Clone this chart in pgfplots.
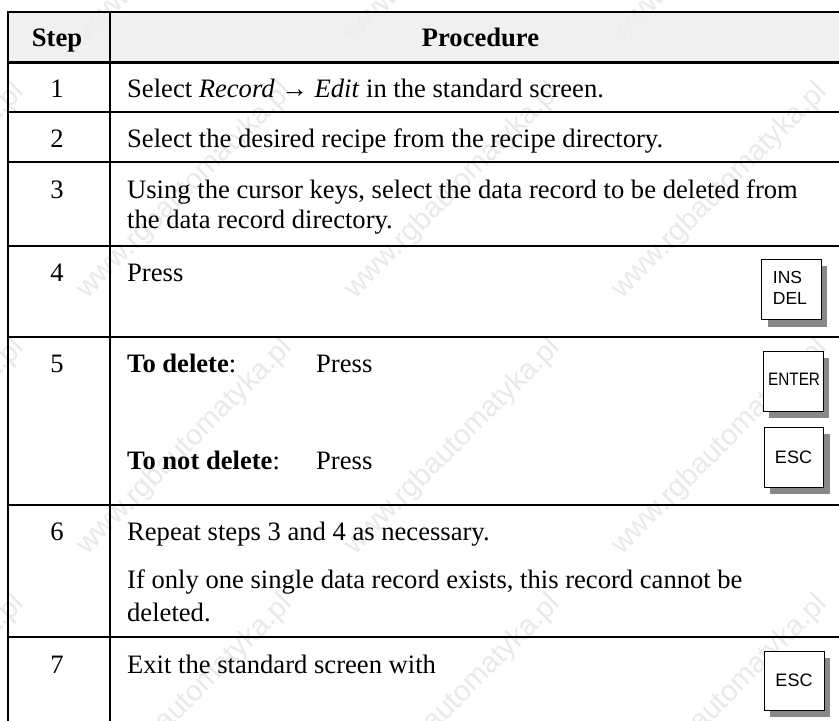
\documentclass[border=0pt]{standalone}
\usepackage{pgfplots}
\pgfplotsset{compat=1.18}
\usepackage{fontspec}
\setmainfont{Liberation Serif}
\newfontfamily\arial{Liberation Sans}
\definecolor{hdr}{HTML}{EEEEEE}
\definecolor{wm}{HTML}{E9E9E9}
\definecolor{shadowc}{HTML}{888888}
\newcommand{\T}[3]{\node[anchor=base west,inner sep=0pt,yshift=-1pt,font=\fontsize{26.6}{30}\selectfont] at (axis cs:#1,#2) {#3};}
\newcommand{\C}[3]{\node[anchor=base,inner sep=0pt,yshift=-1pt,font=\fontsize{26.6}{30}\selectfont] at (axis cs:#1,#2) {#3};}
\newcommand{\W}[2]{\node[rotate=45,inner sep=0pt,text=wm,font=\arial\fontsize{29}{32}\selectfont] at (axis cs:#1,#2) {www.rgbautomatyka.pl};}
\begin{document}
\begin{tikzpicture}
\begin{axis}[
  scale only axis, width=839pt, height=721pt,
  xmin=0, xmax=839, ymin=0, ymax=721, y dir=reverse,
  hide axis, clip=false]
% watermark
\W{-83}{-65}\W{185}{-65}\W{453}{-65}\W{720}{-65}
\W{-83}{191}\W{185}{191}\W{453}{191}\W{720}{191}
\W{-83}{447}\W{185}{447}\W{453}{447}\W{720}{447}
\W{-83}{703}\W{185}{703}\W{453}{703}\W{720}{703}
% header shade
\addplot[draw=none,fill=hdr,fill opacity=0.9] coordinates {(8,12) (839,12) (839,62) (8,62)} --cycle;
% table rules
\addplot[black,line width=1.9pt] coordinates {(7,12) (839,12)};
\addplot[black,line width=3.4pt] coordinates {(7,62.7) (839,62.7)};
\addplot[black,line width=1.8pt] coordinates {(7,111.7) (839,111.7)};
\addplot[black,line width=1.8pt] coordinates {(7,161.7) (839,161.7)};
\addplot[black,line width=1.8pt] coordinates {(7,245.7) (839,245.7)};
\addplot[black,line width=1.8pt] coordinates {(7,337) (839,337)};
\addplot[black,line width=1.8pt] coordinates {(7,505) (839,505)};
\addplot[black,line width=1.8pt] coordinates {(7,636.7) (839,636.7)};
\addplot[black,line width=1.8pt] coordinates {(8,11) (8,721)};
\addplot[black,line width=1.8pt] coordinates {(109.7,11) (109.7,721)};
% key shadows
\addplot[draw=none,fill=shadowc] coordinates {(768,266) (827,266) (827,327) (768,327)} --cycle;
\addplot[draw=none,fill=shadowc] coordinates {(769,358) (828.5,358) (828.5,418) (769,418)} --cycle;
\addplot[draw=none,fill=shadowc] coordinates {(770,434) (829.5,434) (829.5,494) (770,494)} --cycle;
\addplot[draw=none,fill=shadowc] coordinates {(770,658) (829.5,658) (829.5,717) (770,717)} --cycle;
% keys
\addplot[draw=black,fill=white,line width=0.7pt] coordinates {(761.7,259) (821,259) (821,319) (761.7,319)} --cycle;
\addplot[draw=black,fill=white,line width=0.7pt] coordinates {(763,351) (823,351) (823,411) (763,411)} --cycle;
\addplot[draw=black,fill=white,line width=0.7pt] coordinates {(764,427) (823.5,427) (823.5,487) (764,487)} --cycle;
\addplot[draw=black,fill=white,line width=0.7pt] coordinates {(764,651) (824,651) (824,710) (764,710)} --cycle;
% key labels
\node[anchor=base west,inner sep=0pt,font=\arial\fontsize{17.5}{20}\selectfont] at (axis cs:772.7,283) {INS};
\node[anchor=base west,inner sep=0pt,font=\arial\fontsize{17.5}{20}\selectfont] at (axis cs:772.7,304) {DEL};
\node[anchor=base west,inner sep=0pt,xscale=0.85,font=\arial\fontsize{18}{20}\selectfont] at (axis cs:768,385) {ENTER};
\node[anchor=base,inner sep=0pt,font=\arial\fontsize{18}{20}\selectfont] at (axis cs:793.5,463) {ESC};
\node[anchor=base,inner sep=0pt,font=\arial\fontsize{18}{20}\selectfont] at (axis cs:794,686) {ESC};
% header text
\C{57}{45}{\textbf{Step}}
\C{480.5}{45}{\textbf{Procedure}}
% step numbers
\C{57}{96}{1}\C{57}{146}{2}\C{57}{197}{3}\C{57}{280}{4}\C{57}{371}{5}\C{57}{539}{6}\C{57}{672}{7}
% body
\T{127}{96}{Select \textit{Record} → \textit{Edit} in the standard screen.}
\T{127}{146}{Select the desired recipe from the recipe directory.}
\T{127}{197}{Using the cursor keys, select the data record to be deleted from}
\T{127}{227}{the data record directory.}
\T{127}{280}{Press}
\T{127}{371}{\textbf{To delete}:}
\T{316}{371}{Press}
\T{127}{468}{\textbf{To not delete}:}
\T{316}{468}{Press}
\T{127}{539}{Repeat steps 3 and 4 as necessary.}
\T{127}{587}{If only one single data record exists, this record cannot be}
\T{127}{620}{deleted.}
\T{127}{672}{Exit the standard screen with}
\end{axis}
\pgfresetboundingbox
\path[use as bounding box] (0,0) rectangle (839pt,721pt);
\end{tikzpicture}
\end{document}
